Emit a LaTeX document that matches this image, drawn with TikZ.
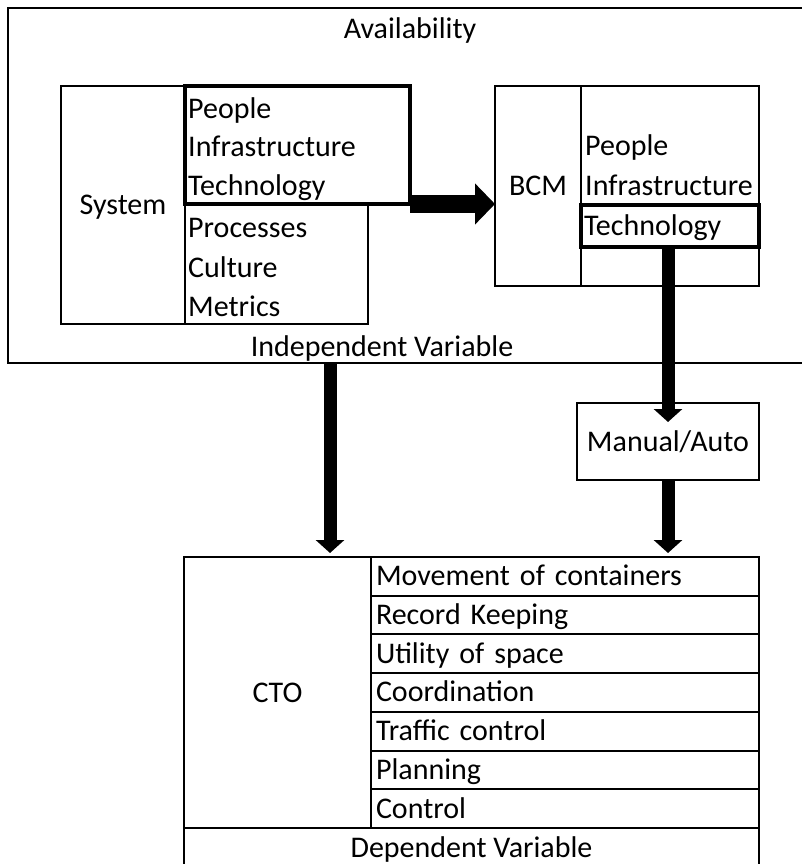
\documentclass[tikz,border=0pt]{standalone}
\usepackage{fontspec}
\setmainfont{Carlito}
\usetikzlibrary{arrows.meta,positioning,calc}
\newcommand{\diagfont}{\fontsize{30}{38}\selectfont}
\tikzstyle{bigarrow} = [-{Triangle[length=20pt,width=40pt]}, line width=18pt]
\tikzstyle{downarrow} = [-{Triangle[length=13pt,width=28pt]}, line width=13pt]

\begin{document}
\begin{tikzpicture}[x=1pt, y=-1pt,
  box/.style={rectangle, draw, line width=2pt, inner sep=0pt, outer sep=0pt, anchor=north west},
  hlbox/.style={box, line width=4pt},
  txt/.style={font=\diagfont, inner sep=0pt, text height=25pt, text depth=6pt},
  item/.style={txt, anchor=west},
  row/.style={box, txt, minimum width=388pt, minimum height=38.7pt, text width=378pt, align=left}]

\useasboundingbox (0,0) rectangle (802,864);
\clip (0,0) rectangle (802,864);

% independent variable frame
\node[box, minimum width=800pt, minimum height=355pt] (indep) at (8,8) {};
\node[txt] (availTxt) at (410,29) {Availability};
\node[txt] (indepTxt) at (382,347) {Independent Variable};

% system
\node[box, txt, minimum width=124pt, minimum height=238pt] (system) at (61,86) {System};
\node[box, minimum width=183pt, minimum height=120pt] (sysLow) at (185,204) {};
\node[hlbox, minimum width=225pt, minimum height=118pt] (sysHigh) at (185,86) {};
\node[item] (sPeople) at (188,109) {People};
\node[item] (sInfra) at (188,147) {Infrastructure};
\node[item] (sTech) at (188,186) {Technology};
\node[item] (sProc) at (188,228) {Processes};
\node[item] (sCult) at (188,268) {Culture};
\node[item] (sMetr) at (188,307) {Metrics};

% bcm
\node[box, txt, minimum width=86pt, minimum height=200pt] (bcm) at (495,86) {BCM};
\node[box, minimum width=178pt, minimum height=200pt] (bcmList) at (581,86) {};
\node[item] (bPeople) at (585,146) {People};
\node[item] (bInfra) at (585,186) {Infrastructure};
\node[hlbox, txt, minimum width=178pt, minimum height=42pt, text width=172pt, align=left] (bcmTech) at (581,205) {Technology};

% manual / auto
\node[box, txt, minimum width=182pt, minimum height=77pt] (manual) at (577,403) {Manual/Auto};

% cto table
\node[box, txt, minimum width=187pt, minimum height=271pt] (cto) at (184,557) {CTO};
\node[row] (r1) at (371,557) {Movement of containers};
\node[row, below=0pt of r1] (r2) {Record Keeping};
\node[row, below=0pt of r2] (r3) {Utility of space};
\node[row, below=0pt of r3] (r4) {Coordination};
\node[row, below=0pt of r4] (r5) {Traffic control};
\node[row, below=0pt of r5] (r6) {Planning};
\node[row, below=0pt of r6] (r7) {Control};
\node[box, txt, minimum width=575pt, minimum height=40pt] (dep) at (184,828) {Dependent Variable};

% arrows
\coordinate (indepOut) at (330,362);
\draw[bigarrow] (sysHigh.south east) -- (bcm.west |- sysHigh.south east);
\draw[downarrow] (bcmTech.south -| manual.north) -- ($(manual.north)+(0,19)$);
\draw[downarrow] (manual.south) -- ($(manual.south |- cto.north)+(0,-4)$);
\draw[downarrow] (indepOut) -- ($(indepOut |- cto.north)+(0,-4)$);
\end{tikzpicture}
\end{document}
